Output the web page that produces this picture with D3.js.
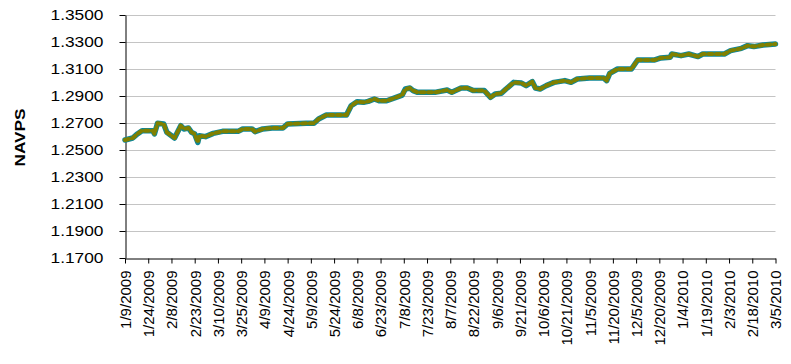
<!DOCTYPE html>
<html>
<head>
<meta charset="utf-8">
<script src="https://cdn.jsdelivr.net/npm/d3@7"></script>
<style>
html,body{margin:0;padding:0;background:#fff;}
svg{display:block;}
text{font-family:Arial,"Liberation Sans",sans-serif;}
</style>
</head>
<body>
<svg id="chart" width="791" height="364"></svg>
<script>
const dates = ["2009-01-09","2009-01-14","2009-01-17","2009-01-20","2009-01-27","2009-01-28","2009-01-30","2009-02-03","2009-02-05","2009-02-10","2009-02-14","2009-02-16","2009-02-19","2009-02-21","2009-02-23","2009-02-25","2009-02-26","2009-03-02","2009-03-07","2009-03-13","2009-03-23","2009-03-26","2009-04-01","2009-04-03","2009-04-08","2009-04-14","2009-04-21","2009-04-24","2009-05-06","2009-05-11","2009-05-14","2009-05-19","2009-06-01","2009-06-04","2009-06-08","2009-06-12","2009-06-15","2009-06-19","2009-06-22","2009-06-27","2009-07-03","2009-07-07","2009-07-09","2009-07-12","2009-07-14","2009-07-17","2009-07-28","2009-08-05","2009-08-08","2009-08-14","2009-08-18","2009-08-22","2009-08-29","2009-09-02","2009-09-05","2009-09-09","2009-09-12","2009-09-17","2009-09-22","2009-09-25","2009-09-29","2009-10-01","2009-10-04","2009-10-08","2009-10-13","2009-10-20","2009-10-24","2009-10-28","2009-11-05","2009-11-14","2009-11-16","2009-11-18","2009-11-23","2009-12-02","2009-12-06","2009-12-17","2009-12-21","2009-12-27","2009-12-28","2010-01-03","2010-01-08","2010-01-14","2010-01-17","2010-01-31","2010-02-04","2010-02-11","2010-02-15","2010-02-19","2010-02-25","2010-03-05"];
const navps = [1.2574,1.2589,1.2619,1.2643,1.2643,1.2619,1.2698,1.2693,1.2631,1.2589,1.2680,1.2656,1.2663,1.2631,1.2619,1.2557,1.2606,1.2599,1.2623,1.2638,1.2638,1.2656,1.2656,1.2636,1.2656,1.2663,1.2663,1.2693,1.2698,1.2698,1.2730,1.2759,1.2759,1.2828,1.2858,1.2853,1.2860,1.2878,1.2865,1.2865,1.2890,1.2907,1.2952,1.2959,1.2940,1.2927,1.2927,1.2944,1.2927,1.2959,1.2959,1.2940,1.2940,1.2890,1.2915,1.2920,1.2952,1.3001,1.2996,1.2977,1.3006,1.2959,1.2952,1.2977,1.3001,1.3014,1.3001,1.3026,1.3034,1.3034,1.3014,1.3068,1.3100,1.3100,1.3167,1.3167,1.3182,1.3187,1.3211,1.3199,1.3211,1.3192,1.3211,1.3211,1.3236,1.3253,1.3273,1.3266,1.3278,1.3285];
const xTickLabels = ["1/9/2009","1/24/2009","2/8/2009","2/23/2009","3/10/2009","3/25/2009","4/9/2009","4/24/2009","5/9/2009","5/24/2009","6/8/2009","6/23/2009","7/8/2009","7/23/2009","8/7/2009","8/22/2009","9/6/2009","9/21/2009","10/6/2009","10/21/2009","11/5/2009","11/20/2009","12/5/2009","12/20/2009","1/4/2010","1/19/2010","2/3/2010","2/18/2010","3/5/2010"];
const yTicks = [1.17,1.19,1.21,1.23,1.25,1.27,1.29,1.31,1.33,1.35];
const yTitle = "NAVPS";

const parseISO = d3.timeParse("%Y-%m-%d");
const parseMDY = s => { const p = s.split("/").map(Number); return new Date(p[2], p[0]-1, p[1]); };
const data = dates.map((d,i) => ({date: parseISO(d), v: navps[i]}));
const tickDates = xTickLabels.map(parseMDY);

const L = 125, R = 775.5, T = 15, B = 258;
const svg = d3.select("#chart");
svg.append("rect").attr("width",791).attr("height",364).attr("fill","#fff");

const x = d3.scaleTime().domain([tickDates[0], tickDates[tickDates.length-1]]).range([L, R]);
const y = d3.scaleLinear().domain([1.17, 1.35]).range([B, T]);

// gridlines
svg.append("g").selectAll("line").data(yTicks.slice(1)).join("line")
  .attr("x1", L).attr("x2", R)
  .attr("y1", d => Math.round(y(d)) + 0.5).attr("y2", d => Math.round(y(d)) + 0.5)
  .attr("stroke", "#c4c4c4").attr("stroke-width", 1);

// y axis
const yAxis = svg.append("g").attr("transform", `translate(${L+0.5},0)`)
  .call(d3.axisLeft(y).tickValues(yTicks).tickFormat(d3.format(".4f")).tickSize(6).tickSizeOuter(0));
yAxis.select(".domain").attr("stroke","#000");
yAxis.selectAll(".tick line").attr("stroke","#000");
yAxis.selectAll(".tick text").attr("x", -22).attr("font-size", 15).attr("fill","#000")
  .attr("textLength", 53).attr("lengthAdjust","spacingAndGlyphs");

// x axis
const xAxis = svg.append("g").attr("transform", `translate(0,${B+0.5})`)
  .call(d3.axisBottom(x).tickValues(tickDates).tickFormat((d,i) => xTickLabels[i]).tickSize(5).tickSizeOuter(0));
xAxis.select(".domain").attr("stroke","#000");
xAxis.selectAll(".tick line").attr("stroke","#000");
xAxis.selectAll(".tick text")
  .attr("font-size", 15).attr("fill","#000")
  .attr("transform","rotate(-90)")
  .attr("text-anchor","end")
  .attr("x", -12).attr("y", 0).attr("dy","0.36em");

// y title
svg.append("text").attr("transform","translate(25,137.5) rotate(-90)")
  .attr("text-anchor","middle").attr("font-size",15).attr("font-weight","bold")
  .attr("textLength",58).attr("lengthAdjust","spacingAndGlyphs")
  .text(yTitle);

// line
const line = d3.line().x(d => x(d.date)).y(d => y(d.v));
svg.append("path").datum(data).attr("d", line)
  .attr("fill","none").attr("stroke","#0f8797").attr("stroke-width",5.5)
  .attr("stroke-linejoin","round").attr("stroke-linecap","round");
svg.append("path").datum(data).attr("d", line)
  .attr("fill","none").attr("stroke","#808000").attr("stroke-width",4)
  .attr("stroke-dasharray","4,3.5").attr("stroke-linejoin","round").attr("stroke-linecap","round");
</script>
</body>
</html>
